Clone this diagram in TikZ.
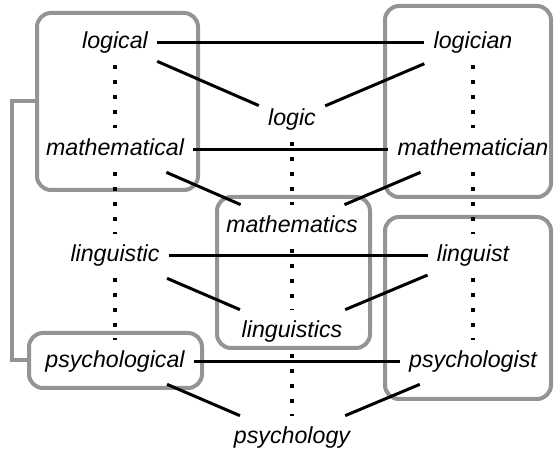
\documentclass[tikz,border=0pt]{standalone}
\usepackage{fontspec}
\setmainfont{Liberation Sans}
\usetikzlibrary{fit}

\begin{document}
\begin{tikzpicture}[
    x=0.02cm, y=-0.02cm,
    wordbox/.style={
        rectangle, inner xsep=0.18cm, inner ysep=0.225cm,
        text height=0.33cm, text depth=0.1cm,
        font=\fontsize{13.2}{15}\selectfont\itshape
    },
    groupbox/.style={
        rectangle, draw=black!42, line width=0.08cm,
        rounded corners=0.28cm, inner sep=0pt
    },
    groupline/.style={draw=black!42, line width=0.08cm},
    link/.style={line width=0.06cm, black},
    kin/.style={line width=0.065cm, black, dash pattern=on 0.08cm off 0.22cm}
]
\useasboundingbox (0,0) rectangle (554,455);

% Groups
\node[groupbox, fit={(37,13)(198,190)}] (adjtop) {};
\node[groupbox, fit={(29,333)(202,388)}] (adjpsy) {};
\node[groupbox, fit={(217,197)(370,348)}] (fieldmid) {};
\node[groupbox, fit={(385,6)(551,197)}] (agenttop) {};
\node[groupbox, fit={(385,217)(551,399)}] (agentbot) {};
\draw[groupline] (adjtop.west) -- ++(-23,0) |- (adjpsy.west);

% Adjectives
\node[wordbox] (logical) at (115,43) {logical};
\node[wordbox] (mathematical) at (115,150) {mathematical};
\node[wordbox] (linguistic) at (115,256) {linguistic};
\node[wordbox] (psychological) at (115,362) {psychological};

% Fields
\node[wordbox] (logic) at (292,120) {logic};
\node[wordbox] (mathematics) at (292,227) {mathematics};
\node[wordbox] (linguistics) at (292,332) {linguistics};
\node[wordbox] (psychology) at (292,438) {psychology};

% Agents
\node[wordbox] (logician) at (473,43) {logician};
\node[wordbox] (mathematician) at (473,150) {mathematician};
\node[wordbox] (linguist) at (473,256) {linguist};
\node[wordbox] (psychologist) at (473,362) {psychologist};

% Links
\foreach \adj/\field/\agent in {logical/logic/logician,
    mathematical/mathematics/mathematician,
    linguistic/linguistics/linguist,
    psychological/psychology/psychologist} {
  \draw[link] (\adj) -- (\agent);
  \draw[link] (\adj) -- (\field);
  \draw[link] (\agent) -- (\field);
}

% Columns
\draw[kin] (logical) -- (mathematical);
\draw[kin] (mathematical) -- (linguistic);
\draw[kin] (linguistic) -- (psychological);
\draw[kin] (logic) -- (mathematics);
\draw[kin] (mathematics) -- (linguistics);
\draw[kin] (linguistics) -- (psychology);
\draw[kin] (logician) -- (mathematician);
\draw[kin] (mathematician) -- (linguist);
\draw[kin] (linguist) -- (psychologist);

\end{tikzpicture}
\end{document}
